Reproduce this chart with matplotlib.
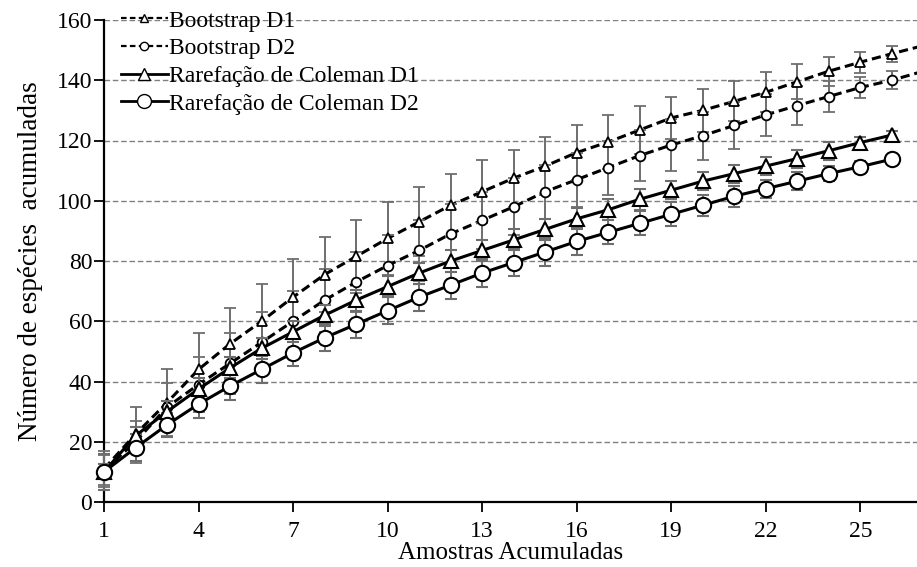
import matplotlib
matplotlib.use('Agg')
import matplotlib.pyplot as plt
from matplotlib.lines import Line2D

plt.rcParams['font.family'] = ['Liberation Serif', 'DejaVu Serif']

# Number of accumulated samples.
samples = list(range(1, 28))

# Bootstrap estimates (line continues past the right edge).
boot_d1 = [11, 22.5, 33, 44, 52.5, 60, 68, 75.5, 81.5, 87.5, 93, 98.5, 103, 107.5,
           111.5, 116, 119.5, 123.5, 127.5, 130, 133, 136, 139.5, 143, 146, 148.8, 151.5]
boot_d1_err = [6, 9, 11, 12, 12, 12.5, 12.5, 12.5, 12, 12, 11.5, 10.5, 10.5, 9.5,
               9.5, 9, 9, 8, 7, 7.2, 6.6, 6.6, 5.8, 4.8, 3.5, 2.7, 2.5]
boot_d2 = [10.5, 20, 31.5, 39, 46, 53, 60, 67, 73, 78.5, 83.5, 89, 93.5, 98,
           103, 107, 111, 115, 118.5, 121.6, 125, 128.5, 131.6, 134.6, 137.6, 140, 143]
boot_d2_err = [5, 7, 8, 9, 10, 10, 10, 10.5, 10, 10, 10, 10, 9.5, 9.5,
               9, 9, 9, 8.5, 8.5, 8, 7.7, 7, 6.6, 5, 3.6, 3, 3]

# Coleman rarefaction.
rare_d1 = [10, 22, 30, 37.5, 44.5, 51, 56.5, 62, 67, 71.5, 76, 80, 83.5, 87,
           90.5, 94, 97, 100.5, 103.5, 106.5, 109, 111.5, 114, 116.6, 119.3, 121.8]
rare_d1_err = [2.5, 3, 3.5, 3.5, 3.5, 3.5, 3.5, 3.5, 3.5, 3.5, 3.5, 3.5, 3.5, 3.5,
               3.5, 3.5, 3.5, 3.5, 3, 3, 3, 3, 3, 3, 2, 1.5]
rare_d2 = [10, 18, 25.6, 32.5, 38.5, 44, 49.5, 54.5, 59, 63.5, 68, 72, 76, 79.5,
           83, 86.5, 89.5, 92.5, 95.5, 98.5, 101.5, 104, 106.5, 109, 111.3, 113.8]
rare_d2_err = [6, 4.5, 4, 4.5, 4.5, 4.5, 4.5, 4.5, 4.5, 4.5, 4.5, 4.5, 4.5, 4.5,
               4.5, 4.5, 4, 4, 4, 3.5, 3.5, 3, 3, 2.5, 2, 1.5]

labels = ['Bootstrap D1', 'Bootstrap D2', 'Rarefação de Coleman D1', 'Rarefação de Coleman D2']

fig = plt.figure(figsize=(9.17, 5.67), dpi=100)
ax = fig.add_axes([104 / 917, 65 / 567, 1 - 104 / 917, 482 / 567])

err_kw = dict(ecolor='#6e6e6e', elinewidth=1.4, capsize=4, capthick=1.4)
dash = (3, 1.6)

# Bootstrap: dashed line clipped at the edge, markers + error bars up to 26.
n = 26
for vals, errs, mk in [(boot_d1, boot_d1_err, '^'), (boot_d2, boot_d2_err, 'o')]:
    ax.plot(samples, vals, color='black', lw=2.2, linestyle=(0, dash), zorder=3)
    ax.errorbar(samples[:n], vals[:n], yerr=errs[:n], fmt=mk, ms=7, mfc='white',
                mec='black', mew=1.3, zorder=4, clip_on=False, **err_kw)

for vals, errs, mk, ms in [(rare_d1, rare_d1_err, '^', 9.5), (rare_d2, rare_d2_err, 'o', 11)]:
    ax.errorbar(samples[:n], vals, yerr=errs, fmt=mk + '-', color='black', lw=2.2,
                ms=ms, mfc='white', mec='black', mew=1.5, zorder=5, clip_on=False,
                **err_kw)

ax.set_xlim(1, 26.8)
ax.set_ylim(0, 160)
ax.set_xticks(range(1, 27, 3))
ax.set_yticks(range(0, 161, 20))
ax.yaxis.grid(True, color='#808080', linestyle=(0, (4, 2)), lw=1.0)
ax.set_axisbelow(True)
for s in ['top', 'right']:
    ax.spines[s].set_visible(False)
for s in ['left', 'bottom']:
    ax.spines[s].set_linewidth(1.6)
ax.tick_params(axis='both', direction='out', length=7, width=1.3, labelsize=17)
ax.tick_params(axis='y', pad=1.5)
ax.tick_params(axis='x', pad=7)

ax.set_xlabel('Amostras Acumuladas', fontsize=18, labelpad=0)
ax.set_ylabel('Número de espécies  acumuladas', fontsize=19.5, labelpad=10)

handles = [
    Line2D([], [], color='black', lw=1.6, linestyle=(0, (2.5, 1.5)), marker='^', ms=6,
           mfc='white', mec='black'),
    Line2D([], [], color='black', lw=1.6, linestyle=(0, (2.5, 1.5)), marker='o', ms=6,
           mfc='white', mec='black'),
    Line2D([], [], color='black', lw=2, marker='^', ms=8, mfc='white', mec='black'),
    Line2D([], [], color='black', lw=2, marker='o', ms=10, mfc='white', mec='black'),
]
ax.legend(handles, labels, loc='upper left', bbox_to_anchor=(0.0, 1.055), frameon=False,
          fontsize=17, handlelength=2.0, handletextpad=0.05, labelspacing=0.26,
          borderaxespad=0.3)

fig.savefig('out.png', dpi=100)
